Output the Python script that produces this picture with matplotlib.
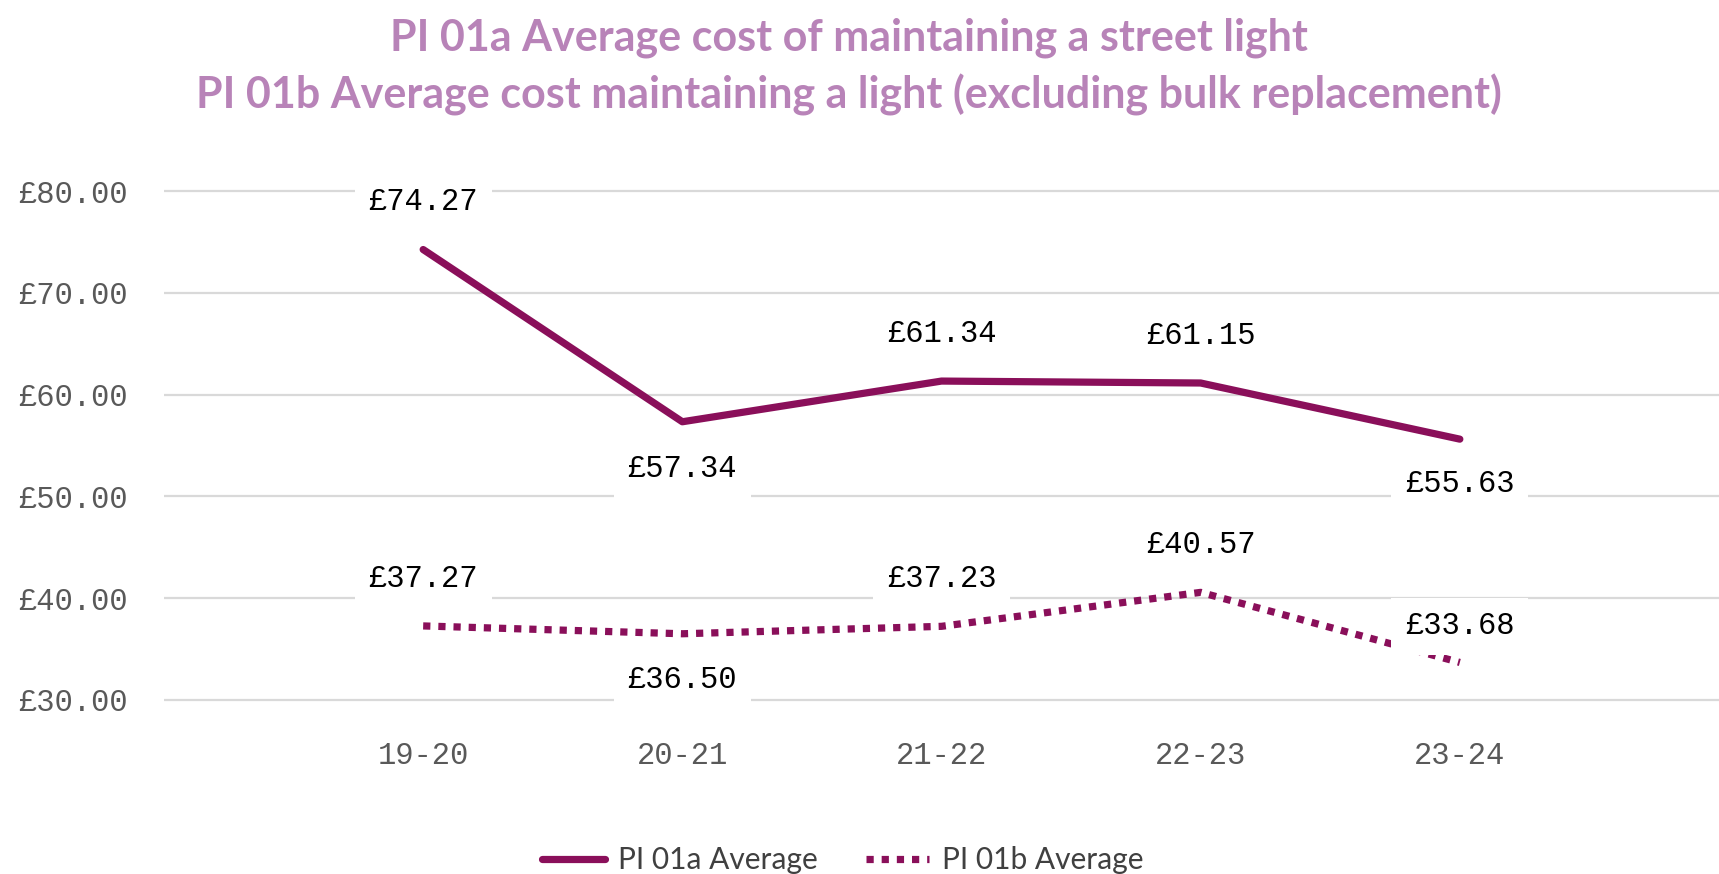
import numpy as np
import matplotlib.pyplot as plt

years = ['19-20', '20-21', '21-22', '22-23', '23-24']
pi01a = [74.27, 57.34, 61.34, 61.15, 55.63]
pi01b = [37.27, 36.50, 37.23, 40.57, 33.68]
# label offsets in points (above > 0, below < 0)
off_a = [34, -34, 34, 34, -32]
off_b = [34, -33, 34, 34, 26]
yticks = [30, 40, 50, 60, 70, 80]

line_col = '#8a0f5a'
title_col = '#b883b8'
grey = '#595959'
mono = 'Liberation Mono'

fig = plt.figure(figsize=(17.19, 8.74), dpi=100)
ax = fig.add_axes([164 / 1719, 0.1934, 1 - 164 / 1719, 0.787 - 0.1934])

x = np.arange(len(years))
ax.plot(x, pi01a, color=line_col, lw=5.2, solid_capstyle='round',
        solid_joinstyle='round', label='PI 01a Average', zorder=3)
ax.plot(x, pi01b, color=line_col, lw=5.2, linestyle=(0, (1, 1.1)),
        dash_capstyle='butt', label='PI 01b Average', zorder=3)

for xi, v, o in zip(x, pi01a, off_a):
    ax.annotate('£{:.2f}'.format(v), (xi, v), xytext=(0, o), textcoords='offset points',
                ha='center', va='center', fontsize=22, family=mono, color='black', zorder=5,
                bbox=dict(boxstyle='square,pad=0.45', fc='white', ec='none'))
for xi, v, o in zip(x, pi01b, off_b):
    ax.annotate('£{:.2f}'.format(v), (xi, v), xytext=(0, o), textcoords='offset points',
                ha='center', va='center', fontsize=22, family=mono, color='black', zorder=5,
                bbox=dict(boxstyle='square,pad=0.45', fc='white', ec='none'))

ax.set_xlim(-1, 5)
ax.set_ylim(29.5, 80.5)
ax.set_yticks(yticks)
ax.set_yticklabels(['£{:.2f}'.format(t) for t in yticks], family=mono, fontsize=22, color=grey)
ax.set_xticks(x)
ax.set_xticklabels(years, family=mono, fontsize=22, color=grey)
ax.tick_params(axis='both', length=0)
ax.tick_params(axis='y', pad=26)
ax.tick_params(axis='x', pad=26)
ax.grid(axis='y', color='#d9d9d9', lw=1.6, zorder=1)
ax.grid(axis='x', visible=False)
ax.set_axisbelow(True)
for s in ax.spines.values():
    s.set_visible(False)

fig.text(0.494, 1 - 38 / 874, 'PI 01a Average cost of maintaining a street light',
         ha='center', va='center', fontsize=31, family='Lato', weight='bold', color=title_col)
fig.text(0.494, 1 - 95 / 874, 'PI 01b Average cost maintaining a light (excluding bulk replacement)',
         ha='center', va='center', fontsize=31, family='Lato', weight='bold', color=title_col)

fig.legend(loc='center', bbox_to_anchor=(843 / 1719, 1 - 860 / 874), ncol=2, frameon=False,
           prop={'family': 'Lato', 'size': 21.5}, labelcolor='#404040',
           handlelength=2.1, columnspacing=1.6, handletextpad=0.45)

fig.savefig('out.png', dpi=100)
